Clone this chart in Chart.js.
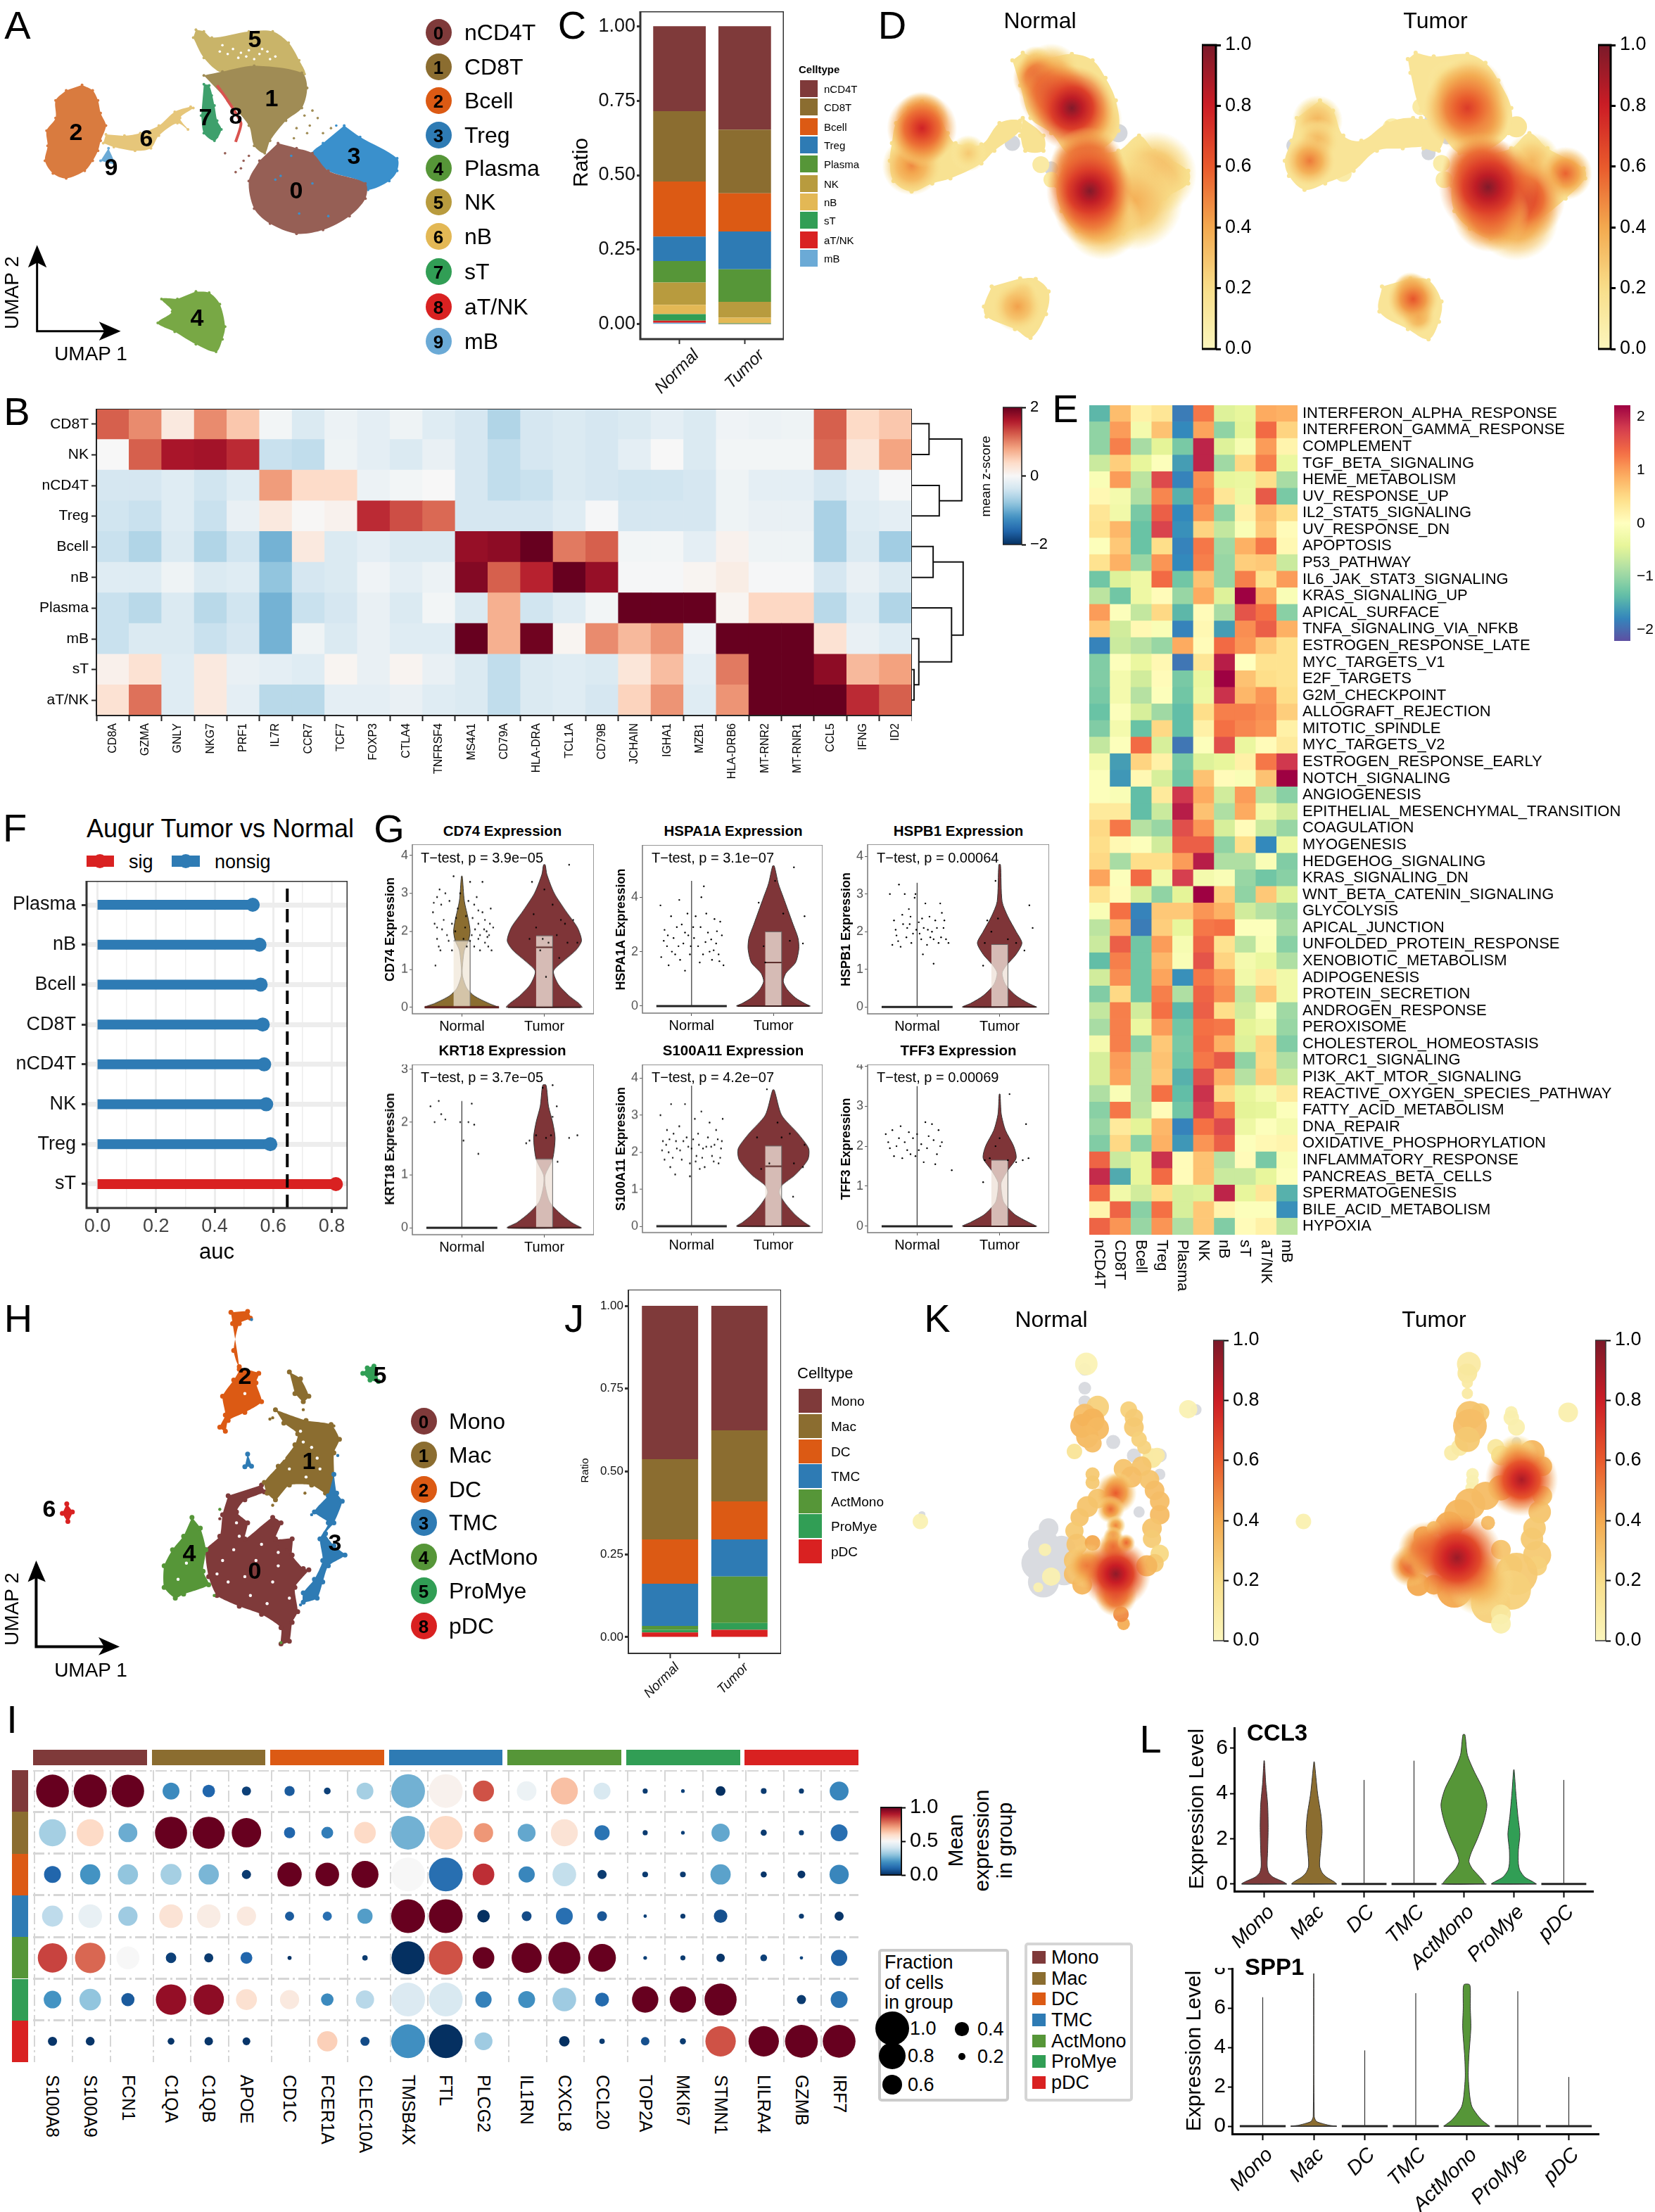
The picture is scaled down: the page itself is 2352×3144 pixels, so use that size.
<!doctype html>
<html>
<head>
<meta charset="utf-8">
<style>
html,body{margin:0;background:#fff}
#page{position:relative;width:2352px;height:3144px;overflow:hidden;font-family:"Liberation Sans",Arial,sans-serif;color:#000}
canvas{position:absolute}
.t{position:absolute;white-space:nowrap;line-height:1;transform-origin:0 0}
.b{position:absolute}
</style>
</head>
<body>
<div id="page"></div>
<script src="https://cdn.jsdelivr.net/npm/chart.js@4"></script>
<script>
// ---- names and colours
const cellTypes = ['nCD4T','CD8T','Bcell','Treg','Plasma','NK','nB','sT','aT/NK','mB'];
const cellColors = ['#7F3A3A','#8B6D30','#DC5A14','#2E7BB4','#569638','#B89B3E','#E3B855','#319E55','#D92121','#6BAAD6'];
const myeloidTypes = ['Mono','Mac','DC','TMC','ActMono','ProMye','pDC'];
const myeloidColors = ['#7F3A3A','#8B6D30','#DC5A14','#2E7BB4','#569638','#319E55','#D92121'];
const groups = ['Normal','Tumor'];

// ---- panel C / J ratios
const normalRatio = [.285,.236,.185,.082,.072,.075,.031,.022,.007,.005];
const tumorRatio = [.347,.214,.128,.127,.109,.053,.019,.002,.001,0];
const normalMyeloid = [.463,.242,.134,.127,.012,.008,.014];
const tumorMyeloid = [.376,.214,.115,.112,.14,.021,.022];

// ---- panel B
const markerGenes = ['CD8A','GZMA','GNLY','NKG7','PRF1','IL7R','CCR7','TCF7','FOXP3','CTLA4','TNFRSF4','MS4A1','CD79A','HLA-DRA','TCL1A','CD79B','JCHAIN','IGHA1','MZB1','HLA-DRB6','MT-RNR2','MT-RNR1','CCL5','IFNG','ID2'];
const markerRows = ['CD8T','NK','nCD4T','Treg','Bcell','nB','Plasma','mB','sT','aT/NK'];
const markerZ = [
[1.2,.95,.2,.95,.55,-.05,-.3,-.12,-.2,-.1,-.25,-.35,-.6,-.35,-.3,-.35,-.3,-.2,-.3,-.08,-.12,-.1,1.2,.4,.55],
[0,1.2,1.65,1.68,1.5,-.45,-.5,-.1,-.2,-.3,-.15,-.35,-.5,-.35,-.3,-.35,-.2,0,-.3,-.05,-.05,-.05,1.15,.25,.8],
[-.35,-.35,-.25,-.4,-.25,.85,.38,.38,-.12,-.05,0,-.35,-.5,-.45,-.3,-.35,-.4,-.4,-.35,-.1,-.2,-.2,-.35,-.2,-.02],
[-.4,-.45,-.25,-.45,-.15,.2,.02,.08,1.5,1.3,1.15,-.35,-.35,-.35,-.25,-.02,-.35,-.35,-.35,-.1,-.15,-.15,-.65,-.25,-.2],
[-.45,-.6,-.3,-.6,-.4,-.95,.2,-.3,-.2,-.3,-.3,1.75,1.8,2,1.05,1.2,-.05,-.05,-.2,.08,-.1,-.1,-.65,-.3,-.7],
[-.25,-.25,-.1,-.3,-.25,-.8,-.35,-.3,-.08,-.2,-.12,1.85,1.2,1.55,2,1.75,-.02,-.02,.05,.15,-.02,-.02,-.35,-.15,-.3],
[-.45,-.55,-.3,-.55,-.4,-.95,-.45,-.35,-.15,-.3,-.05,-.3,.72,-.4,-.25,-.05,2,2,2,.05,.42,.42,-.55,-.25,-.6],
[-.45,-.3,-.3,-.45,-.35,-.95,-.1,-.3,-.15,-.25,-.25,2,.72,1.95,.05,.95,.65,.9,-.08,2,2,2,.3,-.15,-.25],
[.1,.3,-.25,.2,-.15,-.2,-.25,.05,-.15,.06,-.15,-.3,-.5,-.3,-.25,-.3,.25,.62,-.2,1.05,2,2,1.8,.65,.82],
[.3,1.1,-.25,.2,-.2,-.55,-.55,-.2,-.2,-.15,-.25,-.3,-.5,-.3,-.25,-.35,.45,.9,-.25,.9,2,2,2,1.5,1.2]
];
// dendrogram brackets
const dendroPaths = [
[[1337,127],[1362,127],[1362,258],[1337,258]],[[1362,192],[1410,192],[1410,455],[1377,455]],[[1337,390],[1377,390],[1377,520],[1337,520]],
[[1337,650],[1368,650],[1368,782],[1337,782]],[[1368,716],[1412,716],[1412,1028],[1395,1028]],[[1337,912],[1395,912],[1395,1142],[1347,1142]],
[[1337,1043],[1347,1043],[1347,1240],[1340,1240]],[[1337,1175],[1340,1175],[1340,1305],[1337,1305]]
];

// ---- panel E
const hallmarks = ['INTERFERON_ALPHA_RESPONSE','INTERFERON_GAMMA_RESPONSE','COMPLEMENT','TGF_BETA_SIGNALING','HEME_METABOLISM','UV_RESPONSE_UP','IL2_STAT5_SIGNALING','UV_RESPONSE_DN','APOPTOSIS','P53_PATHWAY','IL6_JAK_STAT3_SIGNALING','KRAS_SIGNALING_UP','APICAL_SURFACE','TNFA_SIGNALING_VIA_NFKB','ESTROGEN_RESPONSE_LATE','MYC_TARGETS_V1','E2F_TARGETS','G2M_CHECKPOINT','ALLOGRAFT_REJECTION','MITOTIC_SPINDLE','MYC_TARGETS_V2','ESTROGEN_RESPONSE_EARLY','NOTCH_SIGNALING','ANGIOGENESIS','EPITHELIAL_MESENCHYMAL_TRANSITION','COAGULATION','MYOGENESIS','HEDGEHOG_SIGNALING','KRAS_SIGNALING_DN','WNT_BETA_CATENIN_SIGNALING','GLYCOLYSIS','APICAL_JUNCTION','UNFOLDED_PROTEIN_RESPONSE','XENOBIOTIC_METABOLISM','ADIPOGENESIS','PROTEIN_SECRETION','ANDROGEN_RESPONSE','PEROXISOME','CHOLESTEROL_HOMEOSTASIS','MTORC1_SIGNALING','PI3K_AKT_MTOR_SIGNALING','REACTIVE_OXYGEN_SPECIES_PATHWAY','FATTY_ACID_METABOLISM','DNA_REPAIR','OXIDATIVE_PHOSPHORYLATION','INFLAMMATORY_RESPONSE','PANCREAS_BETA_CELLS','SPERMATOGENESIS','BILE_ACID_METABOLISM','HYPOXIA'];
const hallmarkZ = [
[-1.4,.75,.2,.35,-1.85,1.25,-.5,-.4,.9,.85],[-1.05,1,-.2,.7,-1.75,.95,-1.05,-.45,1.35,.55],[-1.05,1.2,-.9,-.45,-1.2,1.95,-.5,-.15,1,.15],[-.65,.6,-.4,-.05,-1.6,1.95,-.95,.5,1.2,-.35],
[-.1,1,-.75,1.65,-1.8,1.1,-.4,-.35,.45,-.9],[.1,-.2,-.85,1.15,-1.45,1.2,.35,-.3,1.5,-1.2],[.35,-.25,-1.2,1.45,-1.75,1.05,-1.05,.2,.75,.45],[.4,.8,-1.3,1.7,-1.7,.55,-.7,-.1,.65,.05],
[-.05,.65,-1.3,.45,-1.8,1.25,-.95,.85,1.25,.1],[.4,.85,-1,1.05,-1.75,1.2,-1,.6,.65,-.65],[-1.25,-.5,-.3,1.35,-1.25,.7,-1,1.2,.4,1],[-.75,-1.25,-.3,.05,-1,.9,-.5,2.2,.9,-.1],
[1,-.05,-.7,.5,-1.4,.05,-.9,1.55,1.3,-1.1],[.65,-.6,.1,-.1,-1.8,.1,-1.6,1.1,1.45,.85],[-1.8,-.65,-.8,-1,.9,.05,1.35,1.05,.65,.4],[-1.15,-.05,-.35,.1,-1.9,.35,2,0,.4,.4],
[-1.15,-.2,-.6,.05,-1.2,-.35,2.2,.7,.45,.4],[-1.2,-.2,-.8,-.05,-1.25,-.3,1.85,.8,1.05,.45],[-1.3,-.05,-.55,-.95,-1.35,.45,1.2,1.2,1.1,.6],[-1.15,-.2,-1.3,.5,-1.35,.2,1.3,1.15,1.05,.2],
[-.7,-.05,1.35,-.55,-1.9,-.05,1.6,-.35,.05,.3],[-.2,-1.6,.55,.2,-1.2,-.5,-.4,.2,1.25,1.8],[-.05,-1.65,.1,-.55,-1.25,.7,.05,-.1,.7,2.2],[-.05,-.1,-1.35,.3,1.8,.9,-.6,1,-.75,-1.1],
[.3,.3,-1.35,-.65,2,.7,-.85,.9,-.25,-.6],[.5,1.25,-.8,-1,1.6,1.05,-.55,.05,-.65,-1],[.45,.1,-.05,-.6,1.45,1.45,-1.05,.45,-1.75,-.3],[.5,-.9,.45,.45,1,2,-.85,-.85,-.1,-1.15],
[.95,-.05,1.35,-.25,1.75,-.2,-.1,-1,-1.25,-1.1],[.4,.05,-.55,-1.05,-.45,2.2,.6,-1.05,.65,-.5],[-.1,1.3,-1.8,.65,.65,1.05,.85,-.6,-.8,-1],[-.75,.85,-1.85,.6,-.4,1.25,1.3,-.05,-.05,-.9],
[-.65,1.45,-1.25,1,-.15,1.4,.4,-.75,-.1,-1.1],[-1.35,1.2,-1.25,.8,-.1,1.55,.55,-.2,-.35,-.85],[-.6,1.1,-1.25,.95,-1.7,1.25,1,-.25,.3,-.25],[-1.15,.5,-1.25,1.2,-.85,1.4,1.1,-.7,.65,-.25],
[-.7,1.2,-.6,1.3,-1.4,1.45,.45,-.6,-.1,-.95],[-.9,1.2,-.35,1,-1.25,1.3,1.25,-.45,-.3,-1],[-.2,1.2,-1.1,.65,-1.2,1.35,.85,-.5,.55,-1.15],[-.55,1,-.8,.7,-1.25,1.25,1.5,-1.05,.5,-.85],
[-.55,.95,-.8,.65,-1.45,1.6,.85,-.8,.6,-.65],[-.85,-.1,-.8,1.3,-1.35,1.85,.5,-.4,-.2,.3],[-1.1,1.25,-.75,.05,-1.25,1.75,1.2,-.45,-.4,-.05],[-1,.3,-.45,.8,-1.8,1.3,1.65,-.3,-.05,-.2],
[-1.15,.5,-1.1,.85,-1.65,1.05,1.45,-.05,.1,.15],[1.4,-.65,-.4,1.85,.05,.7,-.8,.05,-1.2,-.1],[1.9,-1.5,-.4,1.35,.05,.7,-.65,-.65,-.4,-.05],[1.35,-.25,-.6,.45,-.55,-.5,1.95,-.4,.35,-1.45],
[.15,1.4,-1.1,1.3,-.55,.65,.15,-.05,-.05,-1.7],[1.4,1.05,-1,1.05,-.85,.65,-1.15,.05,.2,-.75]
];

// ---- panel F
const augurTypes = ['sT','Treg','NK','nCD4T','CD8T','Bcell','nB','Plasma'];
const augurAuc = [.814,.59,.576,.569,.564,.557,.553,.53];
const augurCut = .648;

// ---- panel A outlines in umap picture units
const umapA = [
 {c:'#C9B469',p:[[370,118],[385,125],[400,150],[470,125],[515,125],[545,170],[565,240],[575,295],[480,270],[420,290],[385,230],[365,150]]},
 {c:'#A08C55',p:[[385,300],[420,285],[480,262],[570,290],[580,350],[570,430],[540,480],[510,560],[500,610],[480,580],[470,500],[430,400]]},
 {c:'#D97B3F',p:[[155,338],[175,360],[185,400],[190,450],[200,500],[190,560],[185,600],[175,640],[160,680],[125,710],[100,690],[85,640],[90,580],[88,520],[105,470],[105,400],[125,360]]},
 {c:'#E6C67A',p:[[200,535],[235,540],[265,530],[300,500],[330,445],[360,425],[365,430],[340,470],[355,515],[335,490],[300,540],[285,590],[255,600],[215,585],[195,570]]},
 {c:'#6BAAD6',p:[[205,590],[215,650],[190,640]]},
 {c:'#3EA06C',p:[[385,335],[395,340],[405,420],[410,480],[418,515],[405,560],[385,530],[380,460]]},
 {c:'#3A90CC',p:[[650,500],[680,545],[750,630],[750,680],[735,720],[695,755],[680,720],[620,680],[590,610],[610,570]]},
 {c:'#965F55',p:[[525,570],[560,590],[590,610],[620,680],[690,730],[690,790],[660,860],[610,915],[560,930],[510,890],[480,830],[470,720],[490,640]]},
 {c:'#78A845',p:[[370,1160],[395,1165],[415,1210],[425,1300],[420,1350],[408,1400],[370,1370],[330,1320],[298,1285],[325,1240],[305,1190],[335,1190]]}
];
const umapAaT = [[410,340],[430,400],[455,490],[445,565]];
const umapAspeck = [
 {c:'#ffffff',p:[[440,195],[455,210],[470,200],[490,215],[505,205],[450,230],[480,235],[510,235],[430,215],[520,225],[465,225],[495,195],[420,180],[415,205]]},
 {c:'#A08C55',p:[[590,440],[575,460],[600,470],[585,500],[625,510],[610,530],[560,510],[555,550],[580,530]]},
 {c:'#965F55',p:[[470,620],[460,640],[455,670],[445,685],[425,610]]},
 {c:'#3A90CC',p:[[520,715],[590,730],[565,850],[530,700],[620,860],[550,620],[635,500]]},
 {c:'#3EA06C',p:[[415,510],[410,545],[400,380]]}
];
const umapAnumbers = [['0',421,270],['1',386,139],['2',108,187],['3',503,221],['4',280,451],['5',362,55],['6',208,196],['7',292,166],['8',335,164],['9',158,237]];

// ---- panel H outlines
const umapH = [
 {c:'#7F3A3A',p:[[470,760],[475,785],[440,815],[425,860],[445,900],[440,960],[490,880],[505,900],[495,960],[525,960],[525,1020],[545,1070],[555,1075],[530,1140],[535,1230],[525,1270],[520,1340],[505,1350],[505,1290],[470,1240],[430,1210],[390,1170],[375,1100],[370,1000],[395,950],[400,870],[410,800]]},
 {c:'#8B6D30',p:[[520,340],[540,365],[555,430],[545,450],[530,420]]},
 {c:'#8B6D30',p:[[495,480],[550,520],[595,535],[610,590],[600,640],[600,790],[585,790],[560,760],[520,760],[495,815],[480,790],[475,750],[500,690],[530,610],[535,570],[510,530]]},
 {c:'#DC5A14',p:[[415,118],[445,115],[450,140],[430,160],[420,260],[430,320],[465,345],[460,380],[470,450],[440,490],[410,520],[405,560],[395,545],[405,500],[400,430],[420,370],[430,330],[418,160]]},
 {c:'#2E7BB4',p:[[600,720],[605,790],[615,820],[600,900],[585,940],[600,985],[620,1020],[590,1060],[580,1120],[570,1180],[545,1195],[545,1160],[565,1110],[580,1040],[575,960],[590,900],[565,860],[590,800]]},
 {c:'#2E7BB4',p:[[445,645],[452,690],[440,692]]},
 {c:'#569638',p:[[345,880],[360,920],[370,1000],[365,1080],[375,1130],[330,1165],[315,1180],[295,1140],[295,1060],[310,1000],[330,950]]},
 {c:'#319E55',p:[[660,325],[672,318],[680,375],[665,370],[652,345]]},
 {c:'#D92121',p:[[120,830],[130,860],[122,895],[112,865]]}
];
const umapHspeck = [
 {c:'#ffffff',p:[[420,1000],[470,980],[460,1040],[500,1010],[440,1100],[490,1120],[400,1040],[520,1180],[430,950],[425,900],[560,620],[520,700],[575,700],[540,560],[440,420],[335,1050],[320,1110],[345,1000],[410,1120],[450,1170],[480,1200],[390,1090],[500,1060],[545,600],[570,660],[510,660],[550,730]]},
 {c:'#7F3A3A',p:[[500,990],[515,1000],[490,920],[395,885]]},
 {c:'#8B6D30',p:[[490,510],[485,515],[545,480],[600,540],[548,790],[490,835]]},
 {c:'#2E7BB4',p:[[452,145],[607,650],[560,870],[540,1205]]},
 {c:'#569638',p:[[505,1345],[395,850],[385,1170]]}
];
const umapHnumbers = [['0',362,2232],['1',439,2076],['2',348,1955],['3',476,2192],['4',269,2207],['5',540,1954],['6',70,2144]];

// ---- panel D density, outlines then [x, y, radius, level]
const densGrey = [[530,530,13],[325,570,11],[400,670,10],[620,770,8],[1130,440,10],[1135,480,10],[870,580,11],[1130,610,10],[1165,555,7]];
const densPale = [[380,655,12,.1],[400,715,11,.1],[1155,650,12,.08],[1160,715,12,.1],[965,690,12,.08],[1115,425,12,.1],[1300,505,15,.15],[1060,510,14,.06]];
const densOutlineN = [
 [[345,210],[380,235],[440,215],[480,240],[505,310],[525,400],[530,520],[500,590],[440,620],[400,530],[360,470],[340,340],[325,240]],
 [[460,610],[530,600],[570,540],[600,600],[665,680],[665,730],[620,790],[590,860],[540,930],[500,945],[450,920],[420,840],[410,740],[425,660]],
 [[150,403],[175,430],[200,530],[215,570],[265,575],[300,490],[340,480],[340,520],[290,600],[265,650],[205,710],[170,730],[130,762],[95,720],[88,640],[92,570],[100,490],[125,430]],
 [[345,470],[385,540],[385,600],[350,600],[340,540]],
 [[340,1108],[370,1110],[395,1160],[390,1250],[360,1345],[330,1310],[275,1260],[270,1220],[285,1140]]
];
const densOutlineT = [
 [[1105,210],[1140,225],[1205,215],[1240,250],[1265,320],[1290,430],[1285,530],[1240,600],[1190,610],[1150,520],[1115,440],[1095,290],[1090,235]],
 [[1230,620],[1290,590],[1325,530],[1360,590],[1430,670],[1433,710],[1395,790],[1340,880],[1290,930],[1250,950],[1210,910],[1180,840],[1175,740],[1190,660]],
 [[920,400],[945,440],[965,540],[1000,560],[1050,490],[1100,470],[1150,510],[1145,570],[1080,590],[1030,600],[985,680],[930,730],[890,755],[860,700],[852,640],[865,560],[875,470]],
 [[1115,470],[1160,500],[1150,600],[1120,590]],
 [[1095,1108],[1130,1115],[1155,1200],[1150,1280],[1130,1350],[1090,1310],[1035,1240],[1040,1140]]
];
const densPeaksN = [[240,610,26,.28],[345,1170,22,.35],[335,1220,36,.42],[130,660,42,.48],[150,470,38,.62],[150,560,38,.62],[150,510,50,.78],
 [600,690,60,.38],[560,800,70,.38],[500,880,55,.42],[370,250,24,.4],[400,290,42,.42],[470,480,50,.48],
 [375,310,36,.72],[405,375,50,.82],[440,430,60,.98],[480,830,55,.75],[470,650,52,.82],[470,700,58,.88],[475,760,62,.98]];
const densPeaksT = [[915,480,36,.36],[915,560,32,.36],[900,640,36,.52],[1095,1150,24,.5],[1110,1260,24,.45],[1100,1190,36,.62],
 [1330,640,40,.35],[1395,690,38,.58],[1300,870,60,.5],[1170,330,32,.28],[1210,370,50,.58],[1225,480,44,.66],[1205,430,62,.7],
 [1310,790,62,.78],[1250,850,55,.72],[1230,680,55,.82],[1245,745,70,.98]];

// ---- panel K density: flat grey cells, flat coloured cells, soft peaks
const densKgrey = [[465,330,9],[465,400,9],[465,450,9],[520,600,10],[560,650,10],[610,650,10],[610,720,8],[570,860,8],[395,920,14],[385,980,22],[375,1050,24],[385,1120,22],[420,1000,20],[425,1080,20],[1300,600,7],[150,870,5],[680,480,8]];
const densKflatN = [[468,310,16,.03],[665,478,13,.04],[147,895,11,.04],[388,1000,9,.05],[400,1100,13,.05],[375,1140,7,.05],[445,635,11,.15],[595,660,14,.12],[605,650,11,.1],
 [490,470,16,.25],[465,500,16,.32],[480,520,17,.36],[460,540,17,.36],[490,550,16,.34],[470,580,16,.34],[480,605,13,.32],
 [550,480,12,.25],[560,510,13,.27],[560,545,14,.28],[570,590,11,.25],[580,620,10,.24],[480,720,10,.28],[480,750,10,.28],
 [540,700,14,.3],[575,690,14,.3],[555,730,15,.32],[590,740,14,.3],[600,780,14,.32],[610,820,14,.32],[610,870,14,.33],[595,920,14,.3],[595,960,13,.27],
 [490,810,14,.3],[470,840,15,.3],[455,880,13,.3],[445,930,13,.28],[450,980,15,.3],[445,1040,15,.3],[445,1090,15,.32],[460,1130,14,.35],
 [610,1015,13,.22],[600,1050,13,.28],[585,1060,15,.35],[480,975,11,.4],[540,1275,9,.38],[535,1240,11,.48]];
const densKpeaksN = [[530,760,18,.5],[525,790,30,.6],[515,850,20,.56],[525,910,14,.5],[520,950,14,.55],[470,1060,32,.55],[520,990,22,.62],[545,975,13,.6],[525,1170,30,.75],[525,1090,50,.95]];
const densKflatT = [[1208,310,17,.1],[1205,345,14,.12],[1205,380,8,.1],[1205,420,8,.1],[1290,490,9,.05],[1290,510,11,.06],[1300,545,12,.06],[1400,490,14,.06],[1215,720,9,.05],[1215,745,9,.05],[1212,770,8,.05],[888,895,11,.05],[1175,640,11,.08],[1190,620,12,.1],
 [1230,490,13,.28],[1210,500,20,.3],[1210,540,24,.32],[1205,590,18,.28],[1260,620,12,.12],[1270,650,14,.2],[1330,640,18,.35],[1350,690,14,.35],[1350,800,14,.3],[1345,860,16,.3],[1335,920,16,.28],[1330,960,16,.28],[1340,1020,20,.28],[1340,1060,14,.25],
 [1270,770,18,.35],[1240,800,20,.33],[1210,830,22,.33],[1190,870,22,.35],[1170,910,20,.38],[1245,900,10,.33],[1270,1000,14,.3],[1290,1060,16,.3],
 [1300,1090,30,.28],[1290,1150,28,.25],[1250,1200,28,.25],[1270,1240,14,.12],[1270,1275,14,.06],[1110,1130,16,.4],[1140,1130,14,.4],[1180,1150,25,.4],[1120,950,14,.45],[1140,920,10,.3]];
const densKpeaksT = [[1230,1120,48,.45],[1300,650,30,.42],[1095,1060,30,.65],[1125,1000,40,.68],[1310,740,52,.88],[1185,1030,66,.92]];

// ---- panel G violins: [expression, half width]
const cd74Tumor = [[0,.46],[.1,.42],[.3,.3],[.6,.17],[.95,.11],[1.2,.22],[1.5,.38],[1.75,.45],[2.1,.4],[2.5,.27],[3,.12],[3.5,.03],[3.75,.01]];
const cd74Normal = [[0,.45],[.1,.33],[.3,.15],[.5,.06],[.8,.01],[1,.005],[1.5,.03],[1.75,.08],[2,.1],[2.3,.08],[2.8,.03],[3.45,.005]];
const hspa1aTumor = [[0,.45],[.1,.38],[.3,.27],[.6,.17],[.9,.12],[1.2,.15],[1.6,.27],[2.1,.31],[2.5,.3],[3,.24],[3.5,.18],[4,.12],[4.5,.06],[5.15,.01]];
const hspb1Tumor = [[0,.45],[.1,.35],[.3,.2],[.6,.07],[.9,.03],[1.1,.08],[1.4,.2],[1.7,.27],[2,.2],[2.4,.1],[2.8,.03],[3.78,.01]];
const krt18Tumor = [[0,.45],[.1,.33],[.3,.17],[.5,.06],[.8,.01],[1,.01],[1.3,.1],[1.7,.13],[2,.1],[2.3,.05],[2.7,.02]];
const s100a11Tumor = [[0,.45],[.1,.38],[.3,.27],[.6,.15],[.9,.07],[1.1,.1],[1.4,.27],[1.8,.42],[2.1,.43],[2.5,.3],[3,.1],[3.68,.01]];
const tff3Tumor = [[0,.45],[.1,.35],[.3,.18],[.6,.05],[.9,.02],[1.1,.02],[1.4,.1],[1.7,.2],[2,.17],[2.4,.07],[2.8,.02],[3.3,.005]];

const cd74Dots = [[-.3,2.9],[-.35,2.5],[-.2,3],[-.33,2.2],[-.1,3.45],[-.28,1.6],[-.15,2.8],[-.22,2.3],[-.3,1.8],[-.18,1.9],[-.12,2.2],[-.25,2.7],[-.05,2.6],[-.08,2],[-.02,3],[.05,2.4],[.1,3.3],[.15,2.7],[.2,2.2],[.25,3.3],[.12,1.9],[.3,2],[.35,2.6],[.28,1.7],[.22,1.5],[.33,1.9],[.18,2.9],[.08,2.8],[.38,2.1],[.25,2.5],[.32,1.6],[.15,1.6],[-.3,2.1],[-.26,1.5],[-.32,1.1],[-.12,1.5],[.02,1.8],[.2,1.8],[.28,2.3],[.36,1.5],[-.34,2.75],[-.27,3.1],[-.24,2.05],[-.16,1.75],[-.07,2.35],[.04,2.1],[.1,1.75],[.16,2.05],[.22,1.9],[.27,2.05],[.31,1.85],[.34,2.2],[.06,1.6],[.13,2.35],[.2,2.55],[.85,3.3],[1.3,3.75],[.9,2.1],[1.1,2.7],[1.2,2.3],[1.35,2.3],[.82,1.8],[1.05,1.7],[1.28,1.7],[.95,1.5],[1.18,1.3],[1.4,1.7],[1.02,.8],[.98,1.8],[1.15,1.9],[1.25,2.2],[.87,2.45],[1,3.1]];
const hspa1aDots = [[-.38,3.7],[-.33,2.8],[-.3,2.2],[-.37,1.8],[-.25,3.3],[-.22,2.5],[-.2,1.9],[-.28,1.5],[-.15,3.9],[-.12,3],[-.1,2.3],[-.14,1.7],[-.05,3.4],[-.04,2.6],[-.02,1.9],[.05,3.3],[.08,2.2],[.1,1.6],[.12,4],[.18,3.4],[.2,2.7],[.22,2],[.25,1.7],[.28,3.2],[.3,2.3],[.33,1.9],[.37,2.6],[.39,1.5],[.15,4.4],[-.08,1.3],[.02,2.9],[.35,3.1],[-.34,2.4],[-.29,2.6],[-.24,2],[-.18,2.9],[-.16,2.2],[-.08,2.7],[-.01,2.2],[.03,2.5],[.11,2.9],[.14,1.9],[.17,2.35],[.24,2.45],[.27,2.05],[.31,2.75],[.34,1.65],[.82,3.8],[1.02,4.6],[1.25,5.1],[1.38,3.3],[1.2,2.4],[.88,2.2],[1.12,3.4],[.9,1.6],[1.36,2.3]];
const hspb1Dots = [[-.33,3],[-.28,2.3],[-.22,3.25],[-.25,1.9],[-.3,1.65],[-.18,2.45],[-.15,3],[-.12,2.1],[-.2,1.6],[-.08,2.4],[-.05,1.95],[-.03,2.9],[-.07,1.7],[.02,2.25],[.05,1.8],[.08,2.1],[.1,2.75],[.12,1.65],[.15,2.4],[.18,2],[.2,1.8],[.22,2.3],[.26,1.7],[.3,2.5],[.32,2.1],[.35,1.8],[.28,2.75],[-.02,3],[.2,1.15],[-.1,2.6],[.07,1.4],[.38,1.7],[-.26,2.05],[-.23,1.75],[-.17,2.2],[-.13,1.85],[-.09,2.2],[-.01,2.05],[.03,1.95],[.06,2.35],[.13,2.05],[.16,1.85],[.24,2.1],[.29,1.85],[.33,2.3],[.95,3.35],[.8,1.1],[.85,2.3],[.82,1.7],[.9,2],[1.1,1.8],[1.2,1.7],[1.36,2.7],[1.4,2.1],[1.3,1.5],[.98,2.35]];
const krt18Dots = [[-.38,2.3],[-.33,2],[-.28,2.4],[-.25,2.15],[-.2,2.05],[-.02,2],[.02,1.65],[.08,2],[.12,2.35],[.2,1.4],[.15,1.95],[.82,1.65],[.78,1.6],[.9,1.75],[1.02,1.7],[1.1,2.1],[1.08,1.75],[1.15,2.3],[1.3,1.7],[1.4,1.75],[1.1,2.7],[1.16,1.25],[.98,2.65]];
const s100a11Dots = [[-.38,3],[-.35,2.3],[-.33,1.8],[-.3,2.6],[-.28,2],[-.25,3.3],[-.22,2.5],[-.2,1.4],[-.18,2.1],[-.15,2.7],[-.12,1.8],[-.08,3.3],[-.06,2.4],[-.02,1.7],[0,2.1],[.04,2.9],[.06,1.9],[.08,2.5],[.12,3.1],[.14,2.1],[.16,1.6],[.2,2.4],[.22,2.8],[.25,1.9],[.28,2.2],[.3,2.6],[.33,1.7],[.36,2.1],[.38,2.9],[-.26,1.6],[.1,1.55],[-.02,1.35],[-.36,2.05],[-.31,2.2],[-.27,2.35],[-.23,1.85],[-.19,2.3],[-.14,2.05],[-.1,2.3],[-.04,2.15],[.02,2.35],[.05,1.75],[.09,2.2],[.13,1.85],[.18,2.15],[.24,2.15],[.27,1.75],[.32,2.35],[.35,1.85],[.37,2.3],[.92,3.7],[1.05,2.8],[1.2,2.5],[.8,2.4],[.95,1.7],[1.1,2.4],[1.38,2.2],[1.36,1.6],[1.25,1.7],[1.24,.8],[.85,1.55]];
const tff3Dots = [[-.38,2.3],[-.35,2.1],[-.3,2.4],[-.28,1.75],[-.25,2],[-.2,2.5],[-.18,1.7],[-.15,2.1],[-.1,2.35],[-.12,1.9],[-.05,2.2],[-.02,1.75],[0,2.3],[.05,2.05],[.08,1.6],[.1,2.6],[.12,1.95],[.18,2.55],[.2,2.15],[.22,1.55],[.26,2.4],[.28,2],[.3,2.1],[.24,1.8],[.42,1.4],[-.33,1.95],[-.22,2.2],[-.08,1.8],[.02,1.9],[.14,2.25],[.8,1.1],[.82,1.65],[.88,1.7],[.95,2],[1,2.2],[1.1,1.65],[1.2,1.6],[1.28,1.65],[1.35,1.7],[1.32,2.55],[1.12,3.3]];

// ---- panel I
const dotGenes = ['S100A8','S100A9','FCN1','C1QA','C1QB','APOE','CD1C','FCER1A','CLEC10A','TMSB4X','FTL','PLCG2','IL1RN','CXCL8','CCL20','TOP2A','MKI67','STMN1','LILRA4','GZMB','IRF7'];
const dotFraction = [
[.97,.98,.96,.5,.37,.27,.3,.2,.5,1,1,.62,.58,.8,.5,.15,.11,.29,.17,.15,.56],
[.8,.8,.56,.95,.95,.87,.33,.35,.64,1,1,.57,.53,.8,.45,.15,.11,.54,.18,.15,.5],
[.5,.6,.6,.62,.6,.27,.72,.7,.8,1,1,.64,.48,.7,.27,.17,.17,.6,.18,.23,.57],
[.62,.7,.57,.7,.7,.57,.27,.27,.45,1,1,.37,.29,.5,.29,.1,.15,.4,0,.15,.27],
[.87,.9,.68,.31,.27,.35,.12,0,.16,.98,1,.64,.89,.95,.82,.11,.15,.25,.2,.1,.48],
[.52,.64,.39,.9,.9,.62,.57,.37,.54,1,1,.48,.5,.7,.41,.78,.78,.95,0,.27,.5],
[.27,.26,0,.2,.25,.23,0,.6,.27,1,1,.53,0,.31,.16,.25,.18,.9,.9,.97,.97]
];
const dotMean = [
[1,1,1,.18,.1,.03,.08,.03,.33,.26,.52,.82,.47,.65,.42,.02,.03,0,.02,.02,.17],
[.33,.6,.25,1,1,1,.1,.15,.6,.26,.6,.72,.24,.57,.13,.02,.03,.24,.02,.03,.12],
[.1,.2,.3,.33,.27,.02,1,1,1,.5,.12,.87,.17,.38,.02,.02,.02,.23,.01,.01,.17],
[.37,.46,.32,.57,.54,.55,.08,.12,.22,1,1,0,.05,.12,.07,.03,.02,.06,0,.02,.01],
[.84,.79,.5,.03,.02,.1,.01,0,.02,0,.82,1,1,1,1,.03,.02,.01,.03,.04,.09],
[.2,.3,.08,.94,.95,.58,.55,.18,.36,.43,.42,.16,.19,.32,.11,1,1,1,0,.02,.13],
[.01,.01,0,.01,.01,.01,0,.62,.05,.19,0,.32,0,0,.02,.06,.02,.82,1,1,1]
];
const fractionLegend = [[1,1268,2883,1293],[.8,1268,2922,1290],[.6,1268,2963,1290],[.4,1367,2884,1389],[.2,1367,2923,1389]];

// ---- panel L violins
const ccl3Top = [5.45,5.4,4.6,5.45,6.6,5.05,4.6];
const spp1Top = [6.55,7.75,3.85,6.75,7.2,6.85,2.5];
const ccl3Mono = [[0,.45],[.1,.38],[.3,.18],[.5,.09],[.8,.06],[1.5,.07],[2.5,.08],[3.5,.07],[4.5,.03],[5.45,.005]];
const ccl3Mac = [[0,.45],[.1,.4],[.3,.25],[.5,.16],[.8,.11],[1.5,.13],[2.3,.16],[3,.14],[4,.07],[5.4,.005]];
const ccl3Act = [[0,.42],[.15,.38],[.4,.28],[.7,.16],[1,.1],[1.4,.15],[2,.27],[2.8,.4],[3.5,.46],[4.2,.38],[5,.2],[5.7,.07],[6.6,.02]];
const ccl3Pro = [[0,.45],[.1,.38],[.3,.22],[.6,.12],[.9,.09],[1.5,.09],[2.2,.12],[3,.08],[4,.04],[5.05,.005]];
const spp1Mac = [[0,.45],[.05,.3],[.15,.15],[.25,.05],[.5,.01],[7.75,.002]];
const spp1Act = [[0,.45],[.1,.4],[.3,.3],[.6,.2],[1,.1],[1.5,.06],[2.5,.03],[3.5,.04],[5,.08],[6,.07],[7,.07],[7.2,.05]];

// ---- helpers
const page = document.getElementById('page');
Chart.defaults.font.family = '"Liberation Sans",Arial,sans-serif';
Chart.defaults.color = '#000';
Chart.defaults.animation = false;
Chart.defaults.responsive = false;
Chart.defaults.devicePixelRatio = 1;
Chart.defaults.layout.autoPadding = false;
Chart.defaults.plugins.legend.display = false;
Chart.defaults.plugins.tooltip.enabled = false;
Chart.defaults.events = [];

// fills a closed line dataset using the line element the library laid out
Chart.register({
  id: 'polyFill',
  beforeDatasetDraw(chart, args) {
    const ds = chart.data.datasets[args.index];
    if (!ds.polyFill) return;
    const c = chart.ctx;
    c.save();
    c.fillStyle = ds.polyFill;
    c.beginPath();
    args.meta.dataset.path(c);
    c.closePath();
    c.fill();
    c.restore();
  }
});
Chart.register({
  id: 'frame',
  afterDraw(chart, a, o) {
    if (!o.color) return;
    const r = chart.chartArea, c = chart.ctx;
    c.save();
    c.strokeStyle = o.color;
    c.lineWidth = o.width || 1;
    c.strokeRect(r.left, r.top, r.right - r.left, r.bottom - r.top);
    c.restore();
  }
});

function text(s, x, y, size, o = {}) {
  const el = document.createElement('span');
  el.className = 't';
  el.textContent = s;
  const ax = o.align === 'c' ? '-50%' : o.align === 'r' ? '-100%' : '0';
  el.style.cssText = `left:${x}px;top:${y}px;font-size:${size}px;font-weight:${o.bold ? 700 : 400};font-style:${o.italic ? 'italic' : 'normal'};color:${o.color || '#000'};transform:rotate(${o.rot || 0}deg) translate(${ax},-50%);z-index:5`;
  page.appendChild(el);
}
function block(x, y, w, h, css) {
  const el = document.createElement('div');
  el.className = 'b';
  el.style.cssText = `left:${x}px;top:${y}px;width:${w}px;height:${h}px;${css}`;
  page.appendChild(el);
}
function canvasAt(x, y, w, h) {
  const cv = document.createElement('canvas');
  cv.width = w; cv.height = h;
  cv.style.cssText = `left:${x}px;top:${y}px;width:${w}px;height:${h}px`;
  page.appendChild(cv);
  return cv;
}
// later datasets go on top
function inOrder(list) {
  list.forEach((d, i) => { d.order = list.length - i; });
  return list;
}
// chart whose plot rectangle sits exactly at p = {l,t,r,b} on the page
function plotChart(p, m, cfg) {
  const o = cfg.options, sx = o.scales.x, sy = o.scales.y;
  const mm = {l: m.l || 0, t: m.t || 0, r: m.r || 0, b: m.b || 0};
  const pad = {top: mm.t, left: mm.l, right: mm.r, bottom: mm.b};
  if (sy.display !== false) {
    const rightSide = sy.position === 'right';
    sy.afterFit = s => { s.width = rightSide ? mm.r : mm.l; s.paddingTop = 0; s.paddingBottom = 0; };
    if (rightSide) pad.right = 0; else pad.left = 0;
  }
  if (sx.display !== false) {
    sx.afterFit = s => { s.height = mm.b; s.paddingLeft = 0; s.paddingRight = 0; };
    pad.bottom = 0;
  }
  o.layout = {padding: pad, autoPadding: false};
  const cv = canvasAt(p.l - mm.l, p.t - mm.t, p.r - p.l + mm.l + mm.r, p.b - p.t + mm.t + mm.b);
  return new Chart(cv, cfg);
}
// hidden-axis chart over a page region, values in picture units with y running down
function regionChart(x, y, w, h, xMax, yMax, datasets) {
  return new Chart(canvasAt(x, y, w, h), {
    type: 'scatter',
    data: {datasets: inOrder(datasets)},
    options: {layout: {padding: 0, autoPadding: false}, scales: {
      x: {type: 'linear', display: false, min: 0, max: xMax},
      y: {type: 'linear', display: false, min: 0, max: yMax, reverse: true}
    }}
  });
}
const pts = a => a.map(([x, y]) => ({x, y}));
function poly(p, color, o = {}) {
  return {type: 'scatter', showLine: true, data: pts(p), polyFill: color, borderColor: o.stroke || color, borderWidth: o.bw || 0,
    tension: o.tension === undefined ? .3 : o.tension, pointRadius: o.r || 0, pointBackgroundColor: color, pointBorderWidth: 0, clip: false};
}
function path(p, color, width, o = {}) {
  return {type: 'scatter', showLine: true, data: pts(p), borderColor: color, borderWidth: width, tension: o.tension || 0, borderDash: o.dash || [], pointRadius: 0, clip: false, borderCapStyle: 'butt'};
}
function dots(p, color, r) {
  return {type: 'scatter', showLine: false, data: pts(p), pointRadius: r, pointBackgroundColor: color, pointBorderWidth: 0, clip: false};
}
function ramp(stops) {
  const parsed = stops.map(([t, h]) => [t, parseInt(h.slice(1, 3), 16), parseInt(h.slice(3, 5), 16), parseInt(h.slice(5, 7), 16)]);
  return t => {
    t = Math.max(0, Math.min(1, t));
    let i = 0;
    while (i < parsed.length - 2 && t > parsed[i + 1][0]) i++;
    const a = parsed[i], b = parsed[i + 1], f = (t - a[0]) / (b[0] - a[0]);
    return [1, 2, 3].map(k => Math.round(a[k] + (b[k] - a[k]) * f));
  };
}
const css = (c, alpha = 1) => `rgba(${c[0]},${c[1]},${c[2]},${alpha})`;
const densityMap = ramp([[0, '#FBF6BD'], [.2, '#F8DE8A'], [.4, '#F3A94F'], [.6, '#E95A2C'], [.8, '#CC1C25'], [1, '#7A1A2A']]);
const rdbuMap = ramp([[0, '#053061'], [.1, '#2166AC'], [.2, '#4393C3'], [.3, '#92C5DE'], [.4, '#D1E5F0'], [.5, '#F7F7F7'], [.6, '#FDDBC7'], [.7, '#F4A582'], [.8, '#D6604D'], [.9, '#B2182B'], [1, '#67001F']]);
const spectralMap = ramp([[0, '#5E4FA2'], [.1, '#3288BD'], [.2, '#66C2A5'], [.3, '#ABDDA4'], [.4, '#E6F598'], [.5, '#FFFFBF'], [.6, '#FEE08B'], [.7, '#FDAE61'], [.8, '#F46D43'], [.9, '#D53E4F'], [1, '#9E0142']]);

function flatBubbles(list, colorOf) {
  return {type: 'bubble', data: list.map(([x, y, r, v]) => ({x, y, r, v})), borderWidth: 0, clip: false,
    backgroundColor: c => colorOf(c.raw ? c.raw.v : 0)};
}
// radial falloff through the colour map, painted low to high
function softBubbles(list) {
  return {type: 'bubble', data: list.map(([x, y, r, v]) => ({x, y, r, v})), borderWidth: 0, clip: false,
    backgroundColor: c => {
      if (!c.raw) return 'rgba(0,0,0,0)';
      const ch = c.chart, px = ch.scales.x.getPixelForValue(c.raw.x), py = ch.scales.y.getPixelForValue(c.raw.y);
      if (!isFinite(px) || !isFinite(py)) return 'rgba(0,0,0,0)'; // scales not laid out yet
      const g = ch.ctx.createRadialGradient(px, py, 0, px, py, c.raw.r);
      [0, .25, .5, .75, 1].forEach(t => g.addColorStop(t, css(densityMap(c.raw.v * (1 - t * .6)), t < .6 ? 1 : (1 - t) / .4)));
      return g;
    }};
}
function colorbar(p, map, min, max, ticks, size, o = {}) {
  const fmt = o.fmt || (v => String(v).replace('-', '\u2212'));
  return plotChart(p, {t: 24, b: 24, r: o.right || 60}, {
    type: 'bar',
    data: {labels: [''], datasets: [{data: [[min, max]], barPercentage: 1, categoryPercentage: 1, borderWidth: 0, inflateAmount: 0,
      backgroundColor: c => {
        const a = c.chart.chartArea;
        if (!a) return '#fff';
        const g = c.chart.ctx.createLinearGradient(0, a.bottom, 0, a.top);
        for (let i = 0; i <= 32; i++) g.addColorStop(i / 32, css(map(i / 32)));
        return g;
      }}]},
    options: {
      plugins: {frame: {color: o.frame, width: o.frameWidth || 1}},
      scales: {
        x: {display: false, grid: {display: false}},
        y: {position: 'right', min, max, afterBuildTicks: s => { s.ticks = ticks.map(value => ({value})); },
          grid: {drawOnChartArea: false, tickLength: o.tick === undefined ? 7 : o.tick, tickWidth: o.tickWidth || 3, tickColor: '#000'},
          border: {display: false},
          ticks: {font: {size}, padding: o.gap || 6, callback: fmt, autoSkip: false, color: '#000'}}
      }
    }
  });
}
function stackedRatio(p, m, names, colors, first, second, o) {
  const sets = names.map((n, i) => ({label: n, backgroundColor: colors[i], data: [{x: 0, y: first[i]}, {x: 1, y: second[i]}], barPercentage: o.bar, categoryPercentage: 1, borderWidth: 0})).reverse();
  plotChart(p, m, {
    type: 'bar',
    data: {datasets: sets},
    options: {
      plugins: {frame: {color: o.frame, width: o.frameWidth}},
      scales: {
        x: {type: 'linear', offset: false, min: -.6, max: 1.6, stacked: true, grid: {offset: false, drawOnChartArea: false, tickLength: 7, tickColor: '#333', tickWidth: 2}, border: {display: false},
          afterBuildTicks: s => { s.ticks = [{value: 0}, {value: 1}]; },
          ticks: {callback: v => groups[v], minRotation: 45, maxRotation: 45, labelOffset: o.labelShift, autoSkip: false, font: {size: o.xFont, style: 'italic'}, color: '#111', padding: 2}},
        y: {type: 'linear', stacked: true, min: o.min, max: o.max, grid: {drawOnChartArea: false, tickLength: 5, tickColor: '#333', tickWidth: 3}, border: {display: false},
          afterBuildTicks: s => { s.ticks = [0, .25, .5, .75, 1].map(value => ({value})); },
          ticks: {callback: v => v.toFixed(2), font: {size: o.yFont}, color: '#111', padding: 2, autoSkip: false}}
      }
    }
  });
}
function heatmap(p, m, cols, rows, mat, colorOf, xOpt, yOpt) {
  const sets = rows.map((r, i) => ({label: r, data: cols.map(() => 1), backgroundColor: mat[i].map(colorOf), barPercentage: 1, categoryPercentage: 1, borderWidth: 0})).reverse();
  const n = rows.length;
  plotChart(p, m, {
    type: 'bar',
    data: {labels: cols, datasets: sets},
    options: {
      plugins: {frame: {color: yOpt.frame, width: yOpt.frameWidth}},
      scales: {
        x: Object.assign({stacked: true, grid: {display: false}}, xOpt),
        y: Object.assign({type: 'linear', stacked: true, min: 0, max: n,
          afterBuildTicks: s => { s.ticks = rows.map((r, i) => ({value: n - i - .5})); }}, yOpt.axis)
      }
    }
  });
}
function violinPolygon(center, prof, color, stroke) {
  const right = prof.map(([y, w]) => [center + w, y]);
  const left = prof.slice().reverse().map(([y, w]) => [center - w, y]);
  return poly([...right, ...left, right[0]], color, {stroke: stroke || '#333', bw: 1, tension: .25});
}
function thinViolin(center, top, half) {
  return [path([[center - half, 0], [center + half, 0]], '#222', 3), path([[center, 0], [center, top]], '#333', 1.2)];
}
function downLabels(list, xs, y, size) {
  list.forEach((s, i) => text(s, xs[i], y, size, {rot: 90}));
}

// ---- panel letters
[['A',25,36],['B',24,585],['C',813,36],['D',1268,36],['E',1514,581],['F',21,1177],['G',553,1178],['H',26,1874],['J',816,1874],['K',1332,1874],['I',17,2444],['L',1635,2472]]
  .forEach(([s, x, y]) => text(s, x, y, 56, {align: 'c'}));

function circleLegend(names, colors, nums, cx, ys, tx) {
  names.forEach((n, i) => {
    block(cx - 18, ys[i] - 19, 37, 38, `border-radius:50%;background:${colors[i]}`);
    text(nums[i], cx, ys[i] + 1, 26, {align: 'c', bold: true});
    text(n, tx, ys[i], 32);
  });
}

// ---- A
regionChart(0, 0, 1180, 560, 1568, 1568, [
  ...umapA.map(g => poly(g.p, g.c, {r: 2})),
  path(umapAaT, '#D9534F', 4, {tension: .2}),
  ...umapAspeck.map(g => dots(g.p, g.c, 1.8)),
  path([[70, 1000], [70, 1318], [200, 1318]], '#000', 3),
  poly([[70, 975], [88, 1065], [70, 1045], [53, 1065]], '#000', {tension: 0}),
  poly([[228, 1318], [187, 1280], [197, 1318], [187, 1355]], '#000', {tension: 0})
]);
umapAnumbers.forEach(([s, x, y]) => text(s, x, y, 34, {align: 'c', bold: true}));
text('UMAP 2', 17, 416, 28, {align: 'c', rot: -90});
text('UMAP 1', 129, 503, 28, {align: 'c'});
circleLegend(cellTypes, cellColors, ['0','1','2','3','4','5','6','7','8','9'], 623, [46,95,143,192,239,287,336,386,436,485], 660);

// ---- C
stackedRatio({l: 910, t: 16, r: 1114, b: 482}, {l: 72, b: 90}, cellTypes, cellColors, normalRatio, tumorRatio,
  {bar: .806, min: -.05, max: 1.05, xFont: 24, yFont: 27, frame: '#333', frameWidth: 3, labelShift: 24});
text('Ratio', 825, 231, 30, {align: 'c', rot: -90});
text('Celltype', 1135, 98, 15, {bold: true});
cellTypes.forEach((n, i) => {
  const y = [126,152,180,206,233,261,287,313,341,367][i];
  block(1137, y - 12, 25, 24, `background:${cellColors[i]}`);
  text(n, 1171, y, 15);
});

// ---- D
regionChart(1200, 0, 1152, 560, 1568, 1568, [
  flatBubbles(densGrey, () => '#D3D6DC'),
  flatBubbles(densPale, v => css(densityMap(v))),
  ...densOutlineN.map(p => poly(p, css(densityMap(.17)), {tension: .35, r: 3})),
  ...densOutlineT.map(p => poly(p, css(densityMap(.15)), {tension: .35, r: 3})),
  softBubbles(densPeaksN),
  softBubbles(densPeaksT)
]);
text('Normal', 1478, 29, 32, {align: 'c'});
text('Tumor', 2040, 29, 32, {align: 'c'});
const densTicks = [0, .2, .4, .6, .8, 1];
colorbar({l: 1708, t: 64, r: 1728, b: 496}, densityMap, 0, 1, densTicks, 27, {frame: '#000', frameWidth: 3, fmt: v => v.toFixed(1)});
colorbar({l: 2271, t: 64, r: 2289, b: 496}, densityMap, 0, 1, densTicks, 27, {frame: '#000', frameWidth: 3, fmt: v => v.toFixed(1)});

// ---- B
heatmap({l: 137, t: 581, r: 1296, b: 1017}, {l: 120, b: 90}, markerGenes, markerRows, markerZ, v => css(rdbuMap((v + 2) / 4)),
  {grid: {drawOnChartArea: false, tickLength: 8, tickColor: '#222', tickWidth: 2}, border: {display: false},
    ticks: {minRotation: 90, maxRotation: 90, autoSkip: false, font: {size: 16}, padding: 3}},
  {frame: '#222', frameWidth: 2, axis: {grid: {drawOnChartArea: false, tickLength: 7, tickColor: '#222', tickWidth: 2}, border: {display: false},
    ticks: {callback: v => markerRows[markerRows.length - v - .5], font: {size: 21}, autoSkip: false, padding: 4}}});
regionChart(0, 560, 1520, 500, 1568, 1500, dendroPaths.map(p => path(p, '#111', 2)));
colorbar({l: 1425, t: 579, r: 1452, b: 774}, rdbuMap, -2, 2, [2, 0, -2], 22, {frame: '#222', frameWidth: 1.5, right: 50, tick: 6, tickWidth: 2});
text('mean z-score', 1400, 677, 19, {align: 'c', rot: -90});

// ---- E
heatmap({l: 1548, t: 576, r: 1844, b: 1755}, {r: 490}, cellTypes, hallmarks, hallmarkZ, v => css(spectralMap((v + 2.2) / 4.4)),
  {display: false},
  {axis: {position: 'right', grid: {display: false, drawTicks: false}, border: {display: false},
    ticks: {callback: v => hallmarks[hallmarks.length - v - .5], font: {size: 22}, autoSkip: false, padding: 7}}});
downLabels(cellTypes, cellTypes.map((c, i) => 1548 + (i + .5) * 29.6), 1762, 22);
colorbar({l: 2294, t: 576, r: 2317, b: 911}, spectralMap, -2.21, 2.22, [2, 1, 0, -1, -2], 21, {tick: 0, gap: 9});

// ---- F
const lollipops = augurTypes.map((n, i) => ({
  type: 'scatter', showLine: true, data: [{x: 0, y: i}, {x: augurAuc[i], y: i}],
  borderColor: n === 'sT' ? '#D92121' : '#2E7BB4', borderWidth: 14, borderCapStyle: 'butt', pointRadius: [0, 10],
  pointBackgroundColor: n === 'sT' ? '#D92121' : '#2E7BB4', pointBorderWidth: 0, clip: false
}));
plotChart({l: 123, t: 1252, r: 494, b: 1717}, {l: 115, b: 50}, {
  type: 'scatter',
  data: {datasets: inOrder([...lollipops, path([[augurCut, -.6], [augurCut, 7.6]], '#000', 4, {dash: [19, 10]})])},
  options: {
    plugins: {frame: {color: '#333', width: 3}},
    scales: {
      x: {type: 'linear', min: -.0375, max: .854,
        afterBuildTicks: s => { s.ticks = [0, .1, .2, .3, .4, .5, .6, .7, .8].map(value => ({value})); },
        grid: {color: '#EDEDED', lineWidth: c => (Math.round(c.tick.value * 10) % 2 ? 1.5 : 3), tickLength: 7, tickColor: c => (Math.round(c.tick.value * 10) % 2 ? 'rgba(0,0,0,0)' : '#333'), tickWidth: 3},
        border: {display: false},
        ticks: {callback: v => (Math.round(v * 10) % 2 ? '' : v.toFixed(1)), font: {size: 27}, color: '#444', autoSkip: false, maxRotation: 0}},
      y: {type: 'linear', min: -.6, max: 7.6,
        afterBuildTicks: s => { s.ticks = augurTypes.map((n, i) => ({value: i})); },
        grid: {color: '#EDEDED', lineWidth: 7, tickLength: 7, tickColor: '#333', tickWidth: 3}, border: {display: false},
        ticks: {callback: v => augurTypes[v], font: {size: 27}, color: '#111', autoSkip: false, padding: 8}}
    }
  }
});
text('Augur Tumor vs Normal', 123, 1178, 36);
text('auc', 308, 1778, 31, {align: 'c'});
block(123, 1216, 39, 16, 'background:#D92121');
block(132, 1214, 20, 20, 'background:#D92121;border-radius:50%');
text('sig', 183, 1225, 27);
block(244, 1216, 40, 16, 'background:#2E7BB4');
block(254, 1214, 20, 20, 'background:#2E7BB4;border-radius:50%');
text('nonsig', 305, 1225, 27);

// ---- G
const violinPanels = [
  {gene: 'CD74', p: '3.9e\u221205', plot: {l: 585.5, t: 1200, r: 844, b: 1440.5}, y: [-.17, 4.29], ticks: [0, 1, 2, 3, 4], normal: cd74Normal, tumor: cd74Tumor, box: [1.88, 1.58], nbox: 1.75, dots: cd74Dots, title: 714, yl: 554, tx: 598, ty: 1181},
  {gene: 'HSPA1A', p: '3.1e\u221207', plot: {l: 913, t: 1200.6, r: 1169, b: 1439.7}, y: [-.26, 5.92], ticks: [0, 2, 4], top: 4.6, tumor: hspa1aTumor, box: [2.73, 1.6], dots: hspa1aDots, title: 1042, yl: 882, tx: 926, ty: 1181},
  {gene: 'HSPB1', p: '0.00064', plot: {l: 1233, t: 1200, r: 1491, b: 1441}, y: [-.18, 4.32], ticks: [0, 1, 2, 3, 4], top: 3.3, tumor: hspb1Tumor, box: [1.66, 0], dots: hspb1Dots, title: 1362, yl: 1202, tx: 1246, ty: 1181},
  {gene: 'KRT18', p: '3.7e\u221205', plot: {l: 585.5, t: 1513, r: 844, b: 1754.5}, y: [-.13, 3.09], ticks: [0, 1, 2, 3], top: 2.4, tumor: krt18Tumor, box: [1.3, 0], dots: krt18Dots, title: 714, yl: 554, tx: 598, ty: 1493},
  {gene: 'S100A11', p: '4.2e\u221207', plot: {l: 913, t: 1513, r: 1169, b: 1751.5}, y: [-.17, 4.37], ticks: [0, 1, 2, 3, 4], top: 3.8, tumor: s100a11Tumor, box: [2.17, 1.62], dots: s100a11Dots, title: 1042, yl: 882, tx: 926, ty: 1493},
  {gene: 'TFF3', p: '0.00069', plot: {l: 1233, t: 1513, r: 1491, b: 1752}, y: [-.16, 4.04], ticks: [0, 1, 2, 3, 4], top: 3.5, tumor: tff3Tumor, box: [1.65, 0], dots: tff3Dots, title: 1362, yl: 1202, tx: 1246, ty: 1493}
];
violinPanels.forEach(v => {
  const sets = [];
  if (v.normal) {
    sets.push(poly([[-.1, 0], [.1, 0], [.1, v.nbox], [-.1, v.nbox]], '#FFFFFF', {tension: 0, stroke: '#777', bw: 1}));
    sets.push(violinPolygon(0, v.normal, '#8B6D30'));
    sets.push(poly([[-.1, 0], [.1, 0], [.1, v.nbox], [-.1, v.nbox]], 'rgba(240,230,215,.72)', {tension: 0, stroke: '#777', bw: 1}));
    sets.push(path([[-.45, 0], [.45, 0]], '#5A1A1A', 3));
  } else {
    sets.push(...thinViolin(0, v.top, .43));
  }
  sets.push(violinPolygon(1, v.tumor, '#7F3538'));
  sets.push(poly([[.9, 0], [1.1, 0], [1.1, v.box[0]], [.9, v.box[0]]], 'rgba(238,226,216,.78)', {tension: 0, stroke: '#666', bw: 1}));
  if (v.box[1]) sets.push(path([[.9, v.box[1]], [1.1, v.box[1]]], '#5A2A28', 2));
  sets.push(path([[.56, 0], [1.44, 0]], '#3A1A1A', 2));
  sets.push(dots(v.dots, '#000', 1.2));
  plotChart(v.plot, {l: 30, b: 42}, {
    type: 'scatter',
    data: {datasets: inOrder(sets)},
    options: {
      plugins: {frame: {color: '#777', width: 1.5}},
      scales: {
        x: {type: 'linear', min: -.6, max: 1.6, afterBuildTicks: s => { s.ticks = [{value: 0}, {value: 1}]; },
          grid: {drawOnChartArea: false, tickLength: 4, tickColor: '#555'}, border: {display: false},
          ticks: {callback: x => groups[x], font: {size: 20}, color: '#000', maxRotation: 0, autoSkip: false, padding: 2}},
        y: {type: 'linear', min: v.y[0], max: v.y[1], afterBuildTicks: s => { s.ticks = v.ticks.map(value => ({value})); },
          grid: {drawOnChartArea: false, tickLength: 4, tickColor: '#555'}, border: {display: false},
          ticks: {font: {size: 18}, color: '#555', autoSkip: false, padding: 2}}
      }
    }
  });
  text(v.gene + ' Expression', v.title, v.ty, 20.5, {align: 'c', bold: true});
  text('T\u2212test, p = ' + v.p, v.tx, v.ty + 37.5, 20);
  text(v.gene + ' Expression', v.yl, v.ty + 140, 18, {align: 'c', bold: true, rot: -90});
});

// ---- H
regionChart(0, 1820, 1240, 600, 1568, 1568, [
  ...umapH.map(g => poly(g.p, g.c, {r: 3.5, tension: .2})),
  ...umapHspeck.map(g => dots(g.p, g.c, 2.2)),
  path([[65, 1070], [65, 1360], [190, 1360]], '#000', 4),
  poly([[65, 1040], [82, 1120], [65, 1105], [50, 1120]], '#000', {tension: 0}),
  poly([[215, 1360], [177, 1325], [187, 1360], [177, 1392]], '#000', {tension: 0})
]);
umapHnumbers.forEach(([s, x, y]) => text(s, x, y, 34, {align: 'c', bold: true}));
text('UMAP 2', 17, 2287, 28, {align: 'c', rot: -90});
text('UMAP 1', 129, 2374, 28, {align: 'c'});
circleLegend(myeloidTypes, myeloidColors, ['0','1','2','3','4','5','8'], 602, [2020,2068,2117,2164,2213,2261,2311], 638);

// ---- J
stackedRatio({l: 893, t: 1833, r: 1110, b: 2350}, {l: 50, b: 70}, myeloidTypes, myeloidColors, normalMyeloid, tumorMyeloid,
  {bar: .81, min: -.049, max: 1.049, xFont: 19, yFont: 17, frame: '#333', frameWidth: 2, labelShift: 10});
text('Ratio', 830, 2090, 15, {align: 'c', rot: -90});
text('Celltype', 1133, 1952, 22);
myeloidTypes.forEach((n, i) => {
  const y = [1991,2027,2063,2098,2134,2169,2205][i];
  block(1135, y - 17, 33, 34, `background:${myeloidColors[i]}`);
  text(n, 1181, y, 19);
});

// ---- K
regionChart(1200, 1820, 1152, 600, 1568, 1568, [
  flatBubbles(densKgrey, () => '#D9DBE0'),
  flatBubbles(densKflatN, v => css(densityMap(v), .95)),
  softBubbles(densKpeaksN),
  flatBubbles(densKflatT, v => css(densityMap(v), .95)),
  softBubbles(densKpeaksT)
]);
text('Normal', 1494, 1875, 32, {align: 'c'});
text('Tumor', 2038, 1875, 32, {align: 'c'});
colorbar({l: 1724, t: 1905, r: 1739, b: 2332}, densityMap, 0, 1, densTicks, 27, {frame: '#333', frameWidth: 1.5, tickWidth: 2, fmt: v => v.toFixed(1)});
colorbar({l: 2267, t: 1905, r: 2282, b: 2332}, densityMap, 0, 1, densTicks, 27, {frame: '#333', frameWidth: 1.5, tickWidth: 2, fmt: v => v.toFixed(1)});

// ---- I
const groupGap = .1437;
const dotX = j => j + Math.floor(j / 3) * groupGap;
const dotData = [];
dotFraction.forEach((row, i) => row.forEach((f, j) => { if (f > 0) dotData.push({x: dotX(j), y: i, r: f * 24, m: dotMean[i][j]}); }));
plotChart({l: 46.7, t: 2516, r: 1220, b: 2931}, {}, {
  type: 'bubble',
  data: {datasets: [{data: dotData, borderWidth: 0, clip: false, backgroundColor: c => (c.raw ? css(rdbuMap(c.raw.m)) : '#fff')}]},
  options: {
    scales: {
      x: {type: 'linear', min: -.515, max: 21.375, afterBuildTicks: s => { s.ticks = dotGenes.map((g, j) => ({value: dotX(j) - .47})); },
        grid: {color: '#D6D6D6', lineWidth: 2, drawTicks: false}, border: {display: false, dash: [16, 5, 3, 5]}, ticks: {display: false}},
      y: {type: 'linear', min: -.5, max: 6.5, reverse: true, afterBuildTicks: s => { s.ticks = dotMean.map((r, i) => ({value: i - .5})); },
        grid: {color: '#D6D6D6', lineWidth: 3, drawTicks: false}, border: {display: false, dash: [16, 5, 3, 5]}, ticks: {display: false}}
    }
  }
});
[[46.7,208.8],[216,377],[384,545.7],[553,714],[721,883],[890,1052],[1058,1220]].forEach(([a, b], i) => block(a, 2487, b - a, 21.6, `background:${myeloidColors[i]}`));
myeloidColors.forEach((c, i) => block(17, 2516 + i * 59.3, 23, 59.3, `background:${c}`));
downLabels(dotGenes, dotGenes.map((g, j) => 74.3 + dotX(j) * 53.6), 2949, 25);
colorbar({l: 1251, t: 2569, r: 1281, b: 2665}, rdbuMap, 0, 1, [0, .5, 1], 29, {frame: '#111', frameWidth: 2, tickWidth: 2, tick: 6, fmt: v => v.toFixed(1), right: 60});
text('Mean', 1358, 2616, 30, {align: 'c', rot: -90});
text('expression', 1395, 2616, 30, {align: 'c', rot: -90});
text('in group', 1428, 2616, 30, {align: 'c', rot: -90});
block(1248, 2770, 186, 217, 'box-sizing:border-box;border:4px solid #CCC;border-radius:5px');
['Fraction', 'of cells', 'in group'].forEach((s, i) => text(s, 1257, 2789 + i * 28.5, 27));
fractionLegend.forEach(([f, cx, cy, tx]) => {
  const r = f * 24;
  block(cx - r, cy - r, 2 * r, 2 * r, 'background:#000;border-radius:50%;z-index:4');
  text(f.toFixed(1), tx, cy, 27);
});
block(1456, 2761, 154, 226, 'box-sizing:border-box;border:4px solid #D5D5D5;border-radius:5px');
myeloidTypes.forEach((n, i) => {
  const y = [2782,2811.5,2841,2871,2901,2930,2960][i];
  block(1467, y - 9, 19, 18, `background:${myeloidColors[i]}`);
  text(n, 1494, y, 27);
});

// ---- L
function violinRow(p, yr, yTicks, tops, profiles) {
  const sets = [];
  myeloidTypes.forEach((n, i) => {
    if (profiles[n]) sets.push(violinPolygon(i, profiles[n], myeloidColors[i]), path([[i - .45, 0], [i + .45, 0]], '#333', 1.5));
    else sets.push(...thinViolin(i, tops[i], .45));
  });
  plotChart(p, {l: 54, b: 125}, {
    type: 'scatter',
    data: {datasets: inOrder(sets)},
    options: {
      scales: {
        x: {type: 'linear', min: -.6, max: 6.6, afterBuildTicks: s => { s.ticks = myeloidTypes.map((n, i) => ({value: i})); },
          grid: {drawOnChartArea: false, tickLength: 9, tickColor: '#000', tickWidth: 2}, border: {color: '#000', width: 3},
          ticks: {callback: v => myeloidTypes[v], minRotation: 45, maxRotation: 45, labelOffset: 10, font: {size: 29, style: 'italic'}, color: '#000', autoSkip: false, padding: 4}},
        y: {type: 'linear', min: yr[0], max: yr[1], afterBuildTicks: s => { s.ticks = yTicks.map(value => ({value})); },
          grid: {drawOnChartArea: false, tickLength: 6, tickColor: '#000', tickWidth: 2}, border: {color: '#000', width: 3},
          ticks: {font: {size: 30}, color: '#000', autoSkip: false, padding: 3}}
      }
    }
  });
}
violinRow({l: 1754, t: 2454.6, r: 2265, b: 2688}, [-.32, 6.93], [0, 2, 4, 6], ccl3Top, {Mono: ccl3Mono, Mac: ccl3Mac, ActMono: ccl3Act, ProMye: ccl3Pro});
violinRow({l: 1751, t: 2797, r: 2273, b: 3033}, [-.39, 8.04], [0, 2, 4, 6, 8], spp1Top, {Mac: spp1Mac, ActMono: spp1Act});
text('CCL3', 1772, 2462, 33, {bold: true});
text('SPP1', 1769, 2795, 33, {bold: true});
text('Expression Level', 1700, 2571, 30, {align: 'c', rot: -90});
text('Expression Level', 1696, 2915, 30, {align: 'c', rot: -90});
</script>
</body>
</html>
